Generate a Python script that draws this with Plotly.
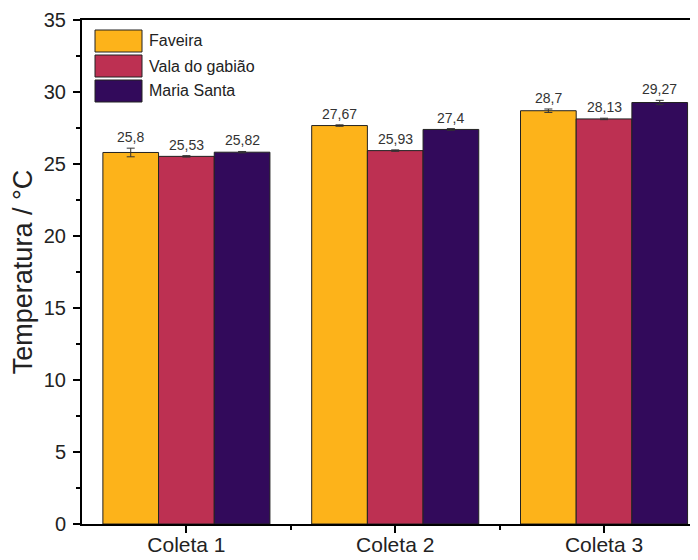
import plotly.graph_objects as go

categories = ["Coleta 1", "Coleta 2", "Coleta 3"]
series_names = ["Faveira", "Vala do gabião", "Maria Santa"]
faveira = [25.8, 27.67, 28.7]
vala = [25.53, 25.93, 28.13]
maria = [25.82, 27.4, 29.27]
faveira_err = [0.3, 0.05, 0.12]
vala_err = [0.05, 0.05, 0.05]
maria_err = [0.05, 0.06, 0.15]
labels_faveira = ["25,8", "27,67", "28,7"]
labels_vala = ["25,53", "25,93", "28,13"]
labels_maria = ["25,82", "27,4", "29,27"]
colors = ["#FDB31A", "#BD3052", "#320A5B"]

FONT = "Liberation Sans, Arial, sans-serif"
values = [faveira, vala, maria]
errs = [faveira_err, vala_err, maria_err]
labels = [labels_faveira, labels_vala, labels_maria]
xpos = list(range(len(categories)))

fig = go.Figure()
for name, v, e, c in zip(series_names, values, errs, colors):
    fig.add_trace(go.Bar(
        x=xpos, y=v, name=name,
        marker=dict(color=c, line=dict(color="#222222", width=1)),
        error_y=dict(type="data", array=e, color="#333333", thickness=1, width=4),
        showlegend=False,
    ))

bargap = 0.2
group_w = 1 - bargap
bw = group_w / len(series_names)
for i, (v, e, lab) in enumerate(zip(values, errs, labels)):
    off = -group_w / 2 + bw * (i + 0.5)
    for j in range(len(categories)):
        fig.add_annotation(x=xpos[j] + off, y=v[j] + e[j], text=lab[j],
                           showarrow=False, yanchor="bottom", yshift=1,
                           font=dict(family=FONT, size=14, color="#333333"))

# custom legend (large swatches); plot area spans 616 x 504 px
PW, PH = 616, 504
for i, (name, c) in enumerate(zip(series_names, colors)):
    top = 10 + i * 25  # px below plot top
    fig.add_shape(type="rect", xref="paper", yref="paper",
                  x0=13 / PW, x1=60 / PW,
                  y0=1 - (top + 22) / PH, y1=1 - top / PH,
                  fillcolor=c, line=dict(color="#222222", width=1))
    fig.add_annotation(xref="paper", yref="paper", x=65 / PW,
                       y=1 - (top + 11) / PH, text=name, showarrow=False,
                       xanchor="left", yanchor="middle",
                       font=dict(family=FONT, size=16, color="#222222"))

# page body has an 8px default margin, so the figure is 8px smaller
fig.update_layout(
    width=690, height=552,
    margin=dict(l=74, r=0, t=12, b=36),
    paper_bgcolor="white", plot_bgcolor="white",
    barmode="group", bargap=bargap, bargroupgap=0,
    font=dict(family=FONT, color="#222222"),
)
fig.update_xaxes(
    range=[-0.5, 2.45], tickvals=xpos, ticktext=categories,
    showline=True, linecolor="black", linewidth=2, mirror=True,
    ticks="outside", ticklen=7, tickwidth=1.5, tickcolor="black",
    tickfont=dict(family=FONT, size=21, color="#222222"),
    ticklabelstandoff=-6,
    minor=dict(tickvals=[0.5, 1.5], ticks="outside", ticklen=4, tickcolor="black", tickwidth=1.5),
    showgrid=False, zeroline=False, automargin=False,
)
fig.update_yaxes(
    range=[0, 35], tickvals=[0, 5, 10, 15, 20, 25, 30, 35],
    showline=True, linecolor="black", linewidth=2,
    ticks="outside", ticklen=7, tickwidth=1.5, tickcolor="black",
    tickfont=dict(family=FONT, size=20, color="#222222"),
    ticklabelstandoff=3,
    minor=dict(dtick=2.5, ticks="outside", ticklen=4, tickcolor="black", tickwidth=1.5),
    title=dict(text="Temperatura / °C", font=dict(family=FONT, size=27, color="#222222"), standoff=6),
    showgrid=False, zeroline=False, automargin=False,
)

fig.write_html("out.html")
